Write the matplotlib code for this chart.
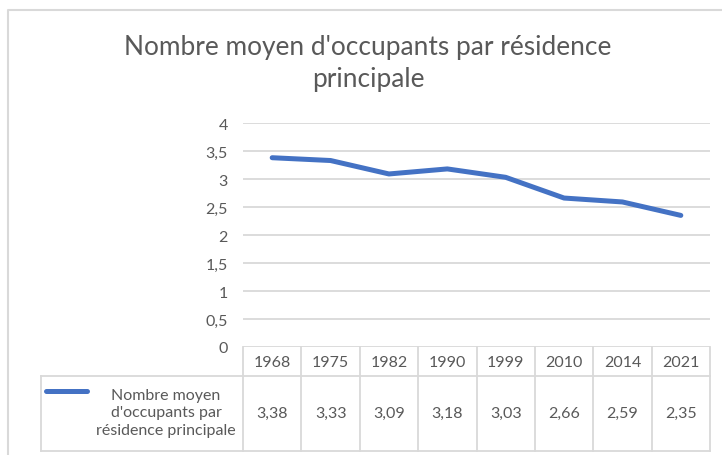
import matplotlib
matplotlib.use("Agg")
import matplotlib.pyplot as plt
from matplotlib.transforms import blended_transform_factory

years = ["1968", "1975", "1982", "1990", "1999", "2010", "2014", "2021"]
values = [3.38, 3.33, 3.09, 3.18, 3.03, 2.66, 2.59, 2.35]
value_labels = ["3,38", "3,33", "3,09", "3,18", "3,03", "2,66", "2,59", "2,35"]
yticks = [0, 0.5, 1, 1.5, 2, 2.5, 3, 3.5, 4]
ytick_labels = ["0", "0,5", "1", "1,5", "2", "2,5", "3", "3,5", "4"]
title_lines = ["Nombre moyen d'occupants par résidence", "principale"]
series_name = "Nombre moyen\nd'occupants par\nrésidence principale"

FONT = ["Lato", "DejaVu Sans"]
plt.rcParams['font.family'] = FONT
TXT = "#595959"
GRID = "#D9D9D9"
LINE = "#4472C4"

W, H = 722, 456
fig = plt.figure(figsize=(W / 100, H / 100), dpi=100)
fig.patch.set_facecolor("white")

# overlay in pixel coordinates
ov = fig.add_axes([0, 0, 1, 1])
ov.set_xlim(0, W)
ov.set_ylim(H, 0)
ov.axis("off")

# chart outer frame
ov.plot([8, 8, W + 5], [H + 5, 11, 11], color=GRID, lw=1.5, solid_capstyle="butt")

# plot area
pl, pr, pt, pb = 243, 710, 124, 348
ax = fig.add_axes([pl / W, (H - pb) / H, (pr - pl) / W, (pb - pt) / H])
ax.set_xlim(-0.5, len(years) - 0.5)
ax.set_ylim(0, 4)
for s in ax.spines.values():
    s.set_visible(False)
ax.set_facecolor("none")
ax.set_yticks(yticks)
ax.set_yticklabels(ytick_labels, fontsize=11.5, color=TXT)
ax.tick_params(axis="y", length=0, pad=10.8)
ax.set_xticks([])
for t in yticks:
    ax.axhline(t, color=GRID, lw=1.3, zorder=1)
ax.plot(range(len(years)), values, color=LINE, lw=3.6, solid_capstyle="round",
        solid_joinstyle="round", zorder=3)

fig.text(368 / W, 1 - 47 / H, title_lines[0],
         ha="center", va="center", fontsize=18.9, color=TXT)
fig.text(368 / W, 1 - 80 / H, title_lines[1],
         ha="center", va="center", fontsize=18.9, color=TXT)

# data table, x in data coords, y in pixels via overlay
tr = blended_transform_factory(ax.transData, ov.transData)
row1, row2, row3 = 348, 377, 452
n = len(years)
for i in range(n + 1):
    ov.plot([i - 0.5, i - 0.5], [row1, row3], color=GRID, lw=1.3, transform=tr)
ov.plot([41, pr], [row2, row2], color=GRID, lw=1.3)
ov.plot([41, pr], [row3, row3], color=GRID, lw=1.3)
ov.plot([41, 41], [row2, row3], color=GRID, lw=1.3)
for i, (y, v) in enumerate(zip(years, value_labels)):
    ov.text(i, (row1 + row2) / 2 + 1, y, transform=tr, ha="center", va="center",
            fontsize=11.5, color=TXT)
    ov.text(i, (row2 + row3) / 2 - 1, v, transform=tr, ha="center", va="center",
            fontsize=11.5, color=TXT)

# legend cell
ov.plot([46, 87], [392, 392], color=LINE, lw=3.6, solid_capstyle="round")
ov.text(166, (row2 + row3) / 2 - 1, series_name, ha="center", va="center",
        fontsize=11.5, color=TXT, multialignment="center", linespacing=1.35)

fig.savefig("out.png", dpi=100, facecolor="white")
